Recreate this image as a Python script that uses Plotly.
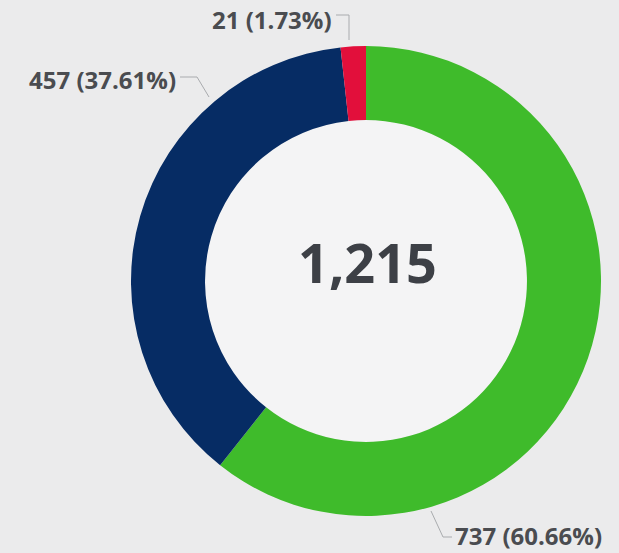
import plotly.graph_objects as go

# ---- data ----
categories = ["Green", "Navy", "Red"]
values = [737, 457, 21]
colors = ["#3fbb2b", "#062c64", "#e20f3b"]

total = sum(values)
label_texts = [f"{v} ({v / total * 100:.2f}%)" for v in values]

# ---- layout geometry (pixels) ----
W, H = 619, 553
cx, cy, R = 366, 281, 235
hole = 0.685

def px(x):
    return x / W

def py(y):
    return 1 - y / H

fig = go.Figure(go.Pie(
    labels=categories,
    values=values,
    marker=dict(colors=colors, line=dict(width=0)),
    hole=hole,
    sort=False,
    direction="clockwise",
    rotation=0,
    textinfo="none",
    hoverinfo="label+value+percent",
    domain=dict(x=[px(cx - R), px(cx + R)], y=[py(cy + R), py(cy - R)]),
    showlegend=False,
))

# lighter hole
r_in = R * hole
shapes = [dict(type="circle", xref="paper", yref="paper", layer="below",
               x0=px(cx - r_in), x1=px(cx + r_in), y0=py(cy + r_in), y1=py(cy - r_in),
               fillcolor="#f4f4f5", line=dict(width=0))]

# label placements (pixels): text anchor point, anchor side, leader path
label_pos = [
    dict(x=454, y=535, xanchor="left", path=[(452, 537), (443, 537), (431, 511)]),
    dict(x=177, y=80, xanchor="right", path=[(180, 77), (197, 77), (209, 97)]),
    dict(x=333, y=19, xanchor="right", path=[(336, 15), (349, 15), (349, 40)]),
]

annotations = []
for txt, lp in zip(label_texts, label_pos):
    annotations.append(dict(
        x=px(lp["x"]), y=py(lp["y"]), xref="paper", yref="paper",
        text=txt, showarrow=False, xanchor=lp["xanchor"], yanchor="middle",
        borderpad=0,
        font=dict(family="Open Sans", size=24, color="#4a4c50", weight="bold"),
    ))
    pts = lp["path"]
    d = "M " + " L ".join(f"{px(a)},{py(b)}" for a, b in pts)
    shapes.append(dict(type="path", xref="paper", yref="paper", path=d,
                       line=dict(color="#a9abae", width=1)))

annotations.append(dict(
    x=px(cx + 1), y=py(cy - 19), xref="paper", yref="paper",
    text=f"{total:,}", showarrow=False, xanchor="center", yanchor="middle",
    font=dict(family="Open Sans", size=54, color="#3d4046", weight="bold"),
))

fig.update_layout(
    width=W, height=H,
    margin=dict(l=0, r=0, t=0, b=0),
    paper_bgcolor="#ebebec",
    plot_bgcolor="#ebebec",
    shapes=shapes,
    annotations=annotations,
)

fig.write_html("out.html", config={"displayModeBar": False},
               post_script="document.body.style.margin='0';")
